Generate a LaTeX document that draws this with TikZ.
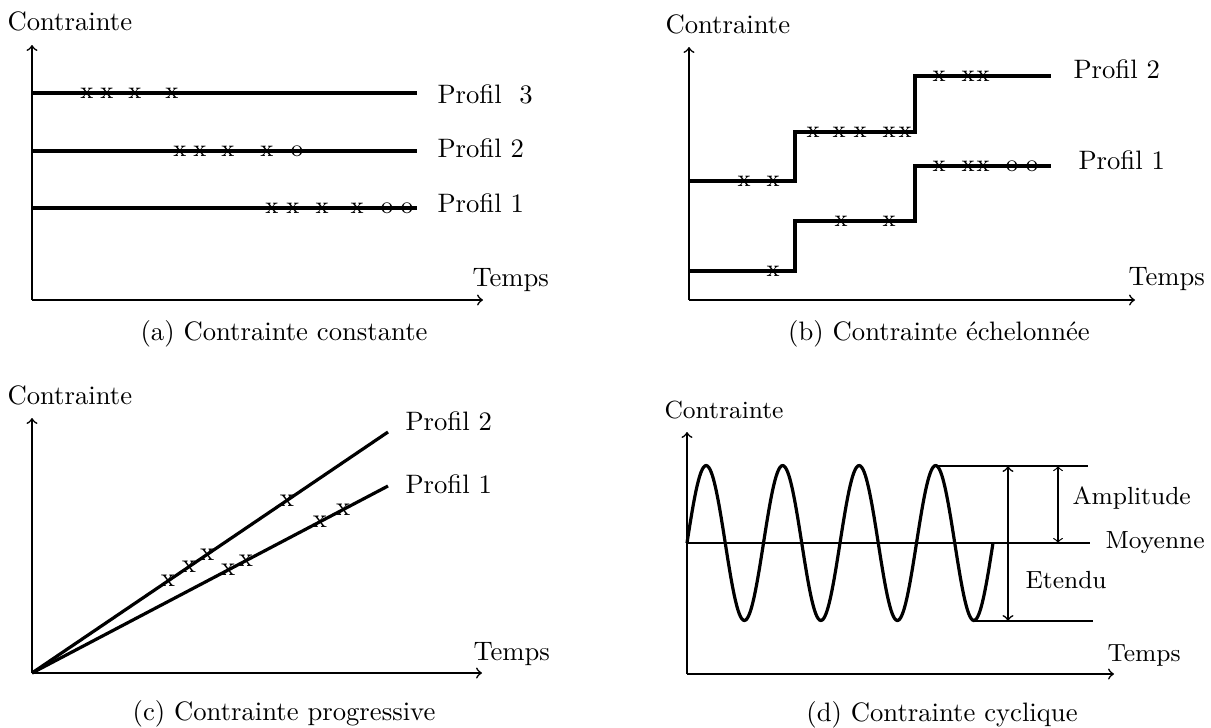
\documentclass[tikz,border=0pt]{standalone}
\usepackage{fontspec}
\begin{document}
\begin{tikzpicture}[x=0.375pt,y=-0.375pt,
  axis/.style={line width=0.6pt,->},
  prof/.style={line width=1.2pt},
  thin line/.style={line width=0.6pt},
  lbl/.style={anchor=base west,inner sep=0pt},
  dlbl/.style={anchor=base west,inner sep=0pt,font=\fontsize{9.3}{11}\selectfont},
  captxt/.style={anchor=base,inner sep=0pt},
  mk/.style={inner sep=0pt,font=\small},
  mkc/.style={inner sep=0pt},
]
\useasboundingbox (0,0) rectangle (1211,727);

% ---------------- (a) ----------------
\coordinate (aO) at (32,300);
\coordinate (aY) at (32,45);
\coordinate (aX) at (483,300);
\draw[axis] (aO) -- (aY);
\draw[axis] (aO) -- (aX);
\node[lbl] (aC) at (7,30) {Contrainte};
\node[lbl] (aT) at (472,286) {Temps};
\coordinate (a3s) at (32,93);  \coordinate (a3e) at (417,93);
\coordinate (a2s) at (32,151); \coordinate (a2e) at (417,151);
\coordinate (a1s) at (32,208); \coordinate (a1e) at (417,208);
\draw[prof] (a3s) -- (a3e);
\draw[prof] (a2s) -- (a2e);
\draw[prof] (a1s) -- (a1e);
\foreach \xx in {87,107,135,172} \node[mk] (a3x\xx) at (\xx,93) {x};
\foreach \xx in {180,200,228,267} \node[mk] (a2x\xx) at (\xx,151) {x};
\node[mk] (a2o) at (297,151) {o};
\foreach \xx in {272,293,322,357} \node[mk] (a1x\xx) at (\xx,208) {x};
\foreach \xx in {387,407} \node[mk] (a1o\xx) at (\xx,208) {o};
\node[lbl] (aP3) at (437,103) {Profil\ \ 3};
\node[lbl] (aP2) at (437,157) {Profil 2};
\node[lbl] (aP1) at (437,212) {Profil 1};
\node[captxt] (aCap) at (284,340) {(a) Contrainte constante};

% ---------------- (b) ----------------
\coordinate (bO) at (689,300);
\coordinate (bY) at (689,47);
\coordinate (bX) at (1135,300);
\draw[axis] (bO) -- (bY);
\draw[axis] (bO) -- (bX);
\node[lbl] (bC) at (665,33) {Contrainte};
\node[lbl] (bT) at (1128,285) {Temps};
\draw[prof] (689,181) -- (795,181) -- (795,132) -- (915,132) -- (915,76) -- (1051,76);
\draw[prof] (689,271) -- (795,271) -- (795,221) -- (915,221) -- (915,166) -- (1051,166);
\foreach \xx in {744,773} \node[mk] (b2a\xx) at (\xx,181) {x};
\foreach \xx in {813,839,860,889,905} \node[mk] (b2b\xx) at (\xx,132) {x};
\foreach \xx in {939,968,983} \node[mk] (b2c\xx) at (\xx,76) {x};
\node[mk] (b1a) at (773,271) {x};
\foreach \xx in {841,889} \node[mk] (b1b\xx) at (\xx,221) {x};
\foreach \xx in {939,968,983} \node[mk] (b1c\xx) at (\xx,166) {x};
\foreach \xx in {1012,1032} \node[mk] (b1o\xx) at (\xx,166) {o};
\node[lbl] (bP2) at (1073,78) {Profil 2};
\node[lbl] (bP1) at (1078,169) {Profil 1};
\node[captxt] (bCap) at (939,340) {(b) Contrainte échelonnée};

% ---------------- (c) ----------------
\coordinate (cO) at (32,673);
\coordinate (cY) at (32,418);
\coordinate (cX) at (482,673);
\draw[axis] (cO) -- (cY);
\draw[axis] (cO) -- (cX);
\node[lbl] (cC) at (7,404) {Contrainte};
\node[lbl] (cT) at (473,660) {Temps};
\coordinate (c2e) at (388,432);
\coordinate (c1e) at (388,486);
\draw[prof] (cO) -- (c2e)
  node[mkc,pos=0.382] (c2m1) {x}
  node[mkc,pos=0.441] (c2m2) {x}
  node[mkc,pos=0.492] (c2m3) {x}
  node[mkc,pos=0.716] (c2m4) {x};
\draw[prof] (cO) -- (c1e)
  node[mkc,pos=0.551] (c1m1) {x}
  node[mkc,pos=0.601] (c1m2) {x}
  node[mkc,pos=0.809] (c1m3) {x}
  node[mkc,pos=0.874] (c1m4) {x};
\node[lbl] (cP2) at (405,430) {Profil 2};
\node[lbl] (cP1) at (405,493) {Profil 1};
\node[captxt] (cCap) at (284,720) {(c) Contrainte progressive};

% ---------------- (d) ----------------
\coordinate (dO) at (687,674);
\coordinate (dY) at (687,432);
\coordinate (dX) at (1114,674);
\draw[axis] (dO) -- (dY);
\draw[axis] (dO) -- (dX);
\node[dlbl] (dC) at (664,418) {Contrainte};
\node[dlbl] (dT) at (1107,661) {Temps};
\coordinate (dMs) at (687,543);  \coordinate (dMe) at (1090,543);
\coordinate (dTs) at (934,466);  \coordinate (dTe) at (1088,466);
\coordinate (dBs) at (973,621);  \coordinate (dBe) at (1093,621);
\draw[thin line] (dMs) -- (dMe);
\draw[thin line] (dTs) -- (dTe);
\draw[thin line] (dBs) -- (dBe);
\draw[prof,line join=round] plot[variable=\t,domain=0:4,samples=241,smooth]
  ({687+76.5*\t},{543-77.5*sin(360*\t)});
\coordinate (dE1) at (1008,466); \coordinate (dE2) at (1008,621);
\coordinate (dA1) at (1058,466); \coordinate (dA2) at (1058,543);
\draw[line width=0.6pt,<->] (dE1) -- (dE2);
\draw[line width=0.45pt,<->] (dA1) -- (dA2);
\node[dlbl] (dAmp) at (1072,504) {Amplitude};
\node[dlbl] (dMoy) at (1105,548) {Moyenne};
\node[dlbl] (dEt) at (1025,588) {Etendu};
\node[captxt] (dCap) at (942,721) {(d) Contrainte cyclique};
\end{tikzpicture}
\end{document}
